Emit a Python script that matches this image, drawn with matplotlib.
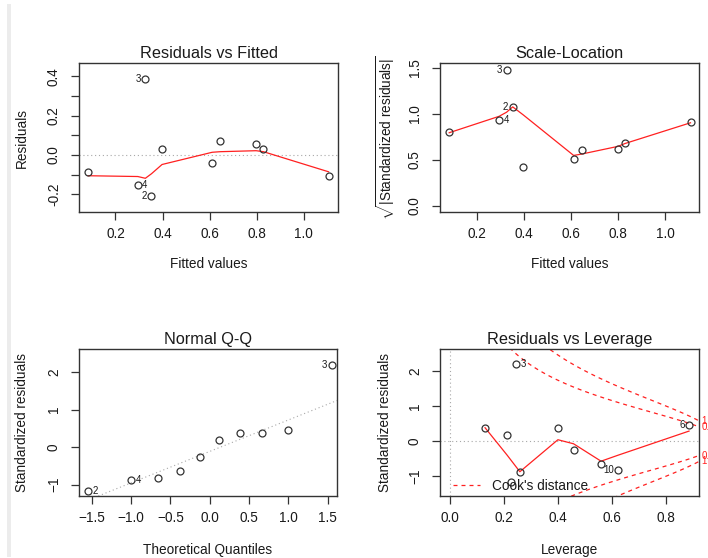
import numpy as np
import matplotlib
matplotlib.use("Agg")
import matplotlib.pyplot as plt
from matplotlib.lines import Line2D
from matplotlib.patches import Rectangle

plt.rcParams['font.family'] = ['Liberation Sans', 'DejaVu Sans']
plt.rcParams['mathtext.fontset'] = 'custom'
plt.rcParams['mathtext.rm'] = 'Liberation Sans'
plt.rcParams['mathtext.it'] = 'Liberation Sans:italic'
plt.rcParams['mathtext.bf'] = 'Liberation Sans:bold'

# ---------------- data ----------------
obs_ids = [1, 2, 3, 4, 5, 6, 7, 8, 9, 10]
fitted = [0.084, 0.353, 0.327, 0.295, 0.398, 0.829, 0.611, 0.645, 0.798, 1.106]
residuals = [-0.088, -0.210, 0.384, -0.154, 0.030, 0.030, -0.042, 0.069, 0.057, -0.105]
std_resid = [-0.643, -1.16, 2.20, -0.875, 0.180, 0.466, -0.262, 0.375, 0.378, -0.825]
leverage = [0.560, 0.225, 0.244, 0.259, 0.212, 0.886, 0.458, 0.130, 0.400, 0.623]
theo_quantiles = [-1.55, -1.00, -0.66, -0.38, -0.12, 0.12, 0.38, 0.66, 1.00, 1.55]

smooth_fit_x = [0.084, 0.295, 0.327, 0.353, 0.398, 0.611, 0.645, 0.798, 0.829, 1.106]
smooth_resid_y = [-0.105, -0.109, -0.118, -0.095, -0.048, 0.014, 0.017, 0.022, 0.017, -0.085]
smooth_scale_y = [0.797, 0.975, 1.02, 1.078, 0.99, 0.55, 0.565, 0.648, 0.68, 0.905]
smooth_lev_x = [0.130, 0.212, 0.225, 0.244, 0.259, 0.400, 0.458, 0.560, 0.623, 0.886]
smooth_lev_y = [0.381, -0.40, -0.53, -0.72, -0.87, 0.04, -0.075, -0.57, -0.40, 0.286]

qq_slope = 0.837
qq_intercept = -0.112
cook_levels = [0.5, 1]
n_params = 4

ids_rvf = [3, 4, 2]
ids_scale = [3, 2, 4]
ids_qq = [3, 4, 2]
ids_lev = [3, 6, 10]

titles = ["Residuals vs Fitted", "Scale-Location", "Normal Q-Q", "Residuals vs Leverage"]
# ----------------------------------------------------------------

W, H = 708, 558
fig = plt.figure(figsize=(W / 100, H / 100), dpi=100)
fig.patch.set_facecolor('white')
fig.add_artist(Rectangle((7 / W, 1 - 557 / H), 4 / W, 553 / H, transform=fig.transFigure,
                         color='#ececec', zorder=0, lw=0))


def make_ax(x0, y0, x1, y1):
    return fig.add_axes([x0 / W, 1 - y1 / H, (x1 - x0) / W, (y1 - y0) / H])


ax1 = make_ax(79, 63, 338, 212)
ax2 = make_ax(440, 63, 699, 212)
ax3 = make_ax(79, 349, 337, 496)
ax4 = make_ax(440, 349, 699, 496)

TXT = '#1a1a1a'
RED = '#ff2020'
GRAY = '#a8a8a8'


def style(ax, title):
    for s in ax.spines.values():
        s.set_color('#333333')
        s.set_linewidth(1.0)
    ax.tick_params(direction='out', length=5.5, width=0.9, color='#333333',
                   labelsize=9.8, labelcolor=TXT)
    ax.tick_params(axis='x', pad=5)
    ax.tick_params(axis='y', pad=7.5, labelrotation=90)
    for lab in ax.get_yticklabels():
        lab.set_va('center')
    ax.set_title(title, fontsize=11.7, color=TXT, pad=3.5)


def pts(ax, x, y):
    ax.plot(x, y, linestyle='none', marker='o', ms=5, mfc='none', mec='#333333', mew=0.9)


def label_points(ax, x, y, ids):
    xs = [x[obs_ids.index(i)] for i in ids]
    mid = (min(xs) + max(xs)) / 2
    for i in ids:
        k = obs_ids.index(i)
        right = x[k] <= mid
        ax.annotate(str(i), (x[k], y[k]), xytext=(3.2 if right else -3.2, 0),
                    textcoords='offset points', ha='left' if right else 'right',
                    va='center', fontsize=7, color=TXT, annotation_clip=False)


def set_labels(ax, xl, yl, xy_frac, yx_frac):
    ax.set_xlabel(xl, fontsize=9.8, color=TXT, va='center')
    ax.set_ylabel(yl, fontsize=9.8, color=TXT, va='center')
    ax.xaxis.set_label_coords(0.5, xy_frac)
    ax.yaxis.set_label_coords(yx_frac, 0.5)


dotted = (0, (1, 2.5))

# ---- Residuals vs Fitted
ax1.axhline(0, color=GRAY, ls=dotted, lw=0.8)
ax1.plot(smooth_fit_x, smooth_resid_y, color=RED, lw=0.9)
pts(ax1, fitted, residuals)
label_points(ax1, fitted, residuals, ids_rvf)
ax1.set_xlim(0.045, 1.146)
ax1.set_ylim(-0.289, 0.467)
ax1.set_xticks([0.2, 0.4, 0.6, 0.8, 1.0])
ax1.set_yticks([-0.2, -0.1, 0.0, 0.1, 0.2, 0.3, 0.4])
ax1.set_yticklabels(['-0.2', '', '0.0', '', '0.2', '', '0.4'])
style(ax1, titles[0])
set_labels(ax1, "Fitted values", "Residuals", -0.35, -0.222)

# ---- Scale-Location
scale_y = list(np.sqrt(np.abs(std_resid)))
ax2.plot(smooth_fit_x, smooth_scale_y, color=RED, lw=0.9)
pts(ax2, fitted, scale_y)
label_points(ax2, fitted, scale_y, ids_scale)
ax2.set_xlim(0.045, 1.142)
ax2.set_ylim(-0.065, 1.555)
ax2.set_xticks([0.2, 0.4, 0.6, 0.8, 1.0])
ax2.set_yticks([0.0, 0.5, 1.0, 1.5])
style(ax2, titles[1])
set_labels(ax2, "Fitted values", r"$\sqrt{|\mathrm{Standardized\ residuals}|}$", -0.35, -0.212)

# ---- Normal Q-Q
order = np.argsort(std_resid)
sorted_sr = [std_resid[k] for k in order]
ax3.axline((0, qq_intercept), slope=qq_slope, color=GRAY, ls=dotted, lw=0.8)
pts(ax3, theo_quantiles, sorted_sr)
qq_x = [0.0] * len(obs_ids)
for rank, k in enumerate(order):
    qq_x[k] = theo_quantiles[rank]
label_points(ax3, qq_x, std_resid, ids_qq)
ax3.set_xlim(-1.665, 1.62)
ax3.set_ylim(-1.30, 2.616)
ax3.set_xticks([-1.5, -1.0, -0.5, 0.0, 0.5, 1.0, 1.5])
ax3.set_yticks([-1, 0, 1, 2])
style(ax3, titles[2])
set_labels(ax3, "Theoretical Quantiles", "Standardized residuals", -0.365, -0.222)

# ---- Residuals vs Leverage
xlim4 = (-0.037, 0.923)
ax4.axhline(0, color=GRAY, ls=dotted, lw=0.8)
ax4.axvline(0, color=GRAY, ls=dotted, lw=0.8)
ax4.plot(smooth_lev_x, smooth_lev_y, color=RED, lw=0.9)
hh = np.linspace(min(leverage) / 100, xlim4[1], 101)
for lev in cook_levels:
    cl = np.sqrt(lev * n_params * (1 - hh) / hh)
    ax4.plot(hh, cl, color=RED, ls=(0, (3.2, 3.2)), lw=0.9)
    ax4.plot(hh, -cl, color=RED, ls=(0, (3.2, 3.2)), lw=0.9)
    yv = np.sqrt(lev * n_params * (1 - xlim4[1]) / xlim4[1])
    for sgn in (1, -1):
        ax4.annotate(str(lev), (1.0, sgn * yv), xycoords=('axes fraction', 'data'),
                     xytext=(2, 0), textcoords='offset points', ha='left', va='center',
                     fontsize=7, color=RED, annotation_clip=False)
pts(ax4, leverage, std_resid)
label_points(ax4, leverage, std_resid, ids_lev)
ax4.set_xlim(*xlim4)
ax4.set_ylim(-1.56, 2.62)
ax4.set_xticks([0.0, 0.2, 0.4, 0.6, 0.8])
ax4.set_yticks([-1, 0, 1, 2])
style(ax4, titles[3])
set_labels(ax4, "Leverage", "Standardized residuals", -0.37, -0.212)
ax4.legend(handles=[Line2D([], [], color=RED, ls=(0, (3.2, 3.2)), lw=0.9)],
           labels=["Cook's distance"], loc='lower left', bbox_to_anchor=(0.05, 0.02),
           frameon=False, handlelength=2.0, handletextpad=0.9, borderpad=0,
           borderaxespad=0, fontsize=9.8, labelcolor=TXT)

fig.savefig('out.png', dpi=100, facecolor='white')
